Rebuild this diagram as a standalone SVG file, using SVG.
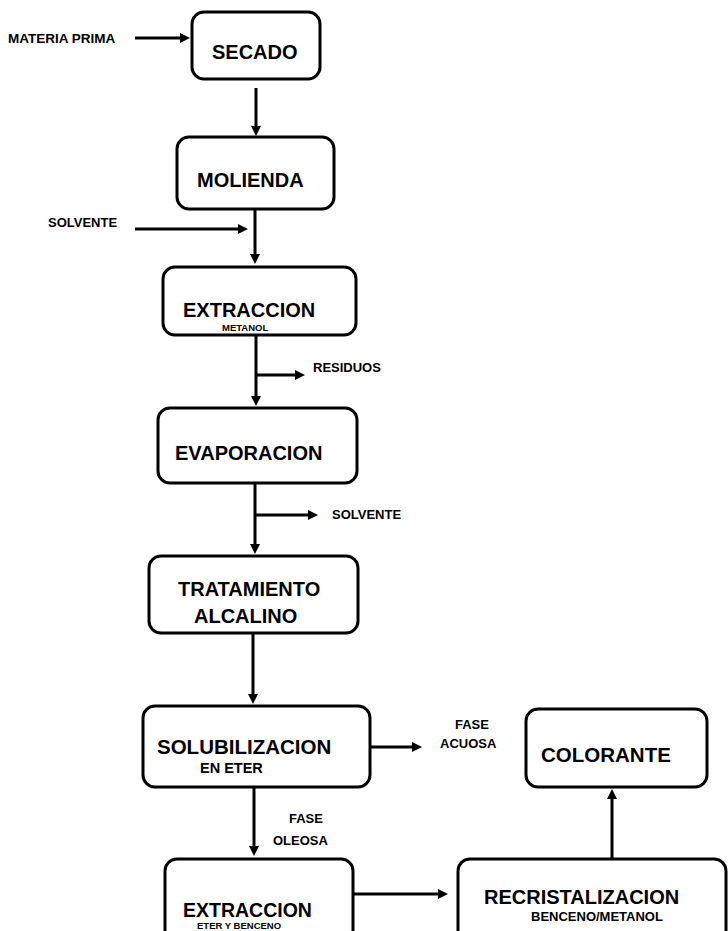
<svg xmlns="http://www.w3.org/2000/svg" width="728" height="931" viewBox="0 0 728 931">
  <defs>
    <!-- filled arrowhead; tip sits 6px beyond the line end -->
    <marker id="ah" viewBox="0 0 10 10" refX="4" refY="5" markerWidth="10" markerHeight="10" markerUnits="userSpaceOnUse" orient="auto">
      <path d="M0,0 L10,5 L0,10 z" fill="#000"/>
    </marker>
  </defs>
  <style>
    .box{fill:#fff;stroke:#000;stroke-width:3}
    .t{font-family:"Liberation Sans",Arial,sans-serif;font-weight:bold;fill:#000}
    .lg{font-size:20px}
    .sm{font-size:13px}
    .xs{font-size:9.5px}
    #connectors line{stroke:#000;stroke-width:3;fill:none;marker-end:url(#ah)}
  </style>
  <rect width="728" height="931" fill="#fff"/>

  <!-- process boxes -->
  <g id="secado">
    <rect class="box" x="192" y="12" width="128" height="67" rx="12"/>
    <text class="t lg" x="212" y="59">SECADO</text>
  </g>
  <g id="molienda">
    <rect class="box" x="177" y="137" width="157" height="72" rx="12"/>
    <text class="t lg" x="197" y="187">MOLIENDA</text>
  </g>
  <g id="extraccion-metanol">
    <rect class="box" x="163" y="267" width="193" height="68" rx="12"/>
    <text class="t lg" x="183" y="317">EXTRACCION</text>
    <text class="t xs" x="222" y="331">METANOL</text>
  </g>
  <g id="evaporacion">
    <rect class="box" x="158" y="408" width="199" height="75" rx="12"/>
    <text class="t lg" x="175" y="460">EVAPORACION</text>
  </g>
  <g id="tratamiento">
    <rect class="box" x="149" y="556" width="209" height="77" rx="12"/>
    <text class="t lg" x="178" y="596">TRATAMIENTO</text>
    <text class="t lg" x="194" y="623">ALCALINO</text>
  </g>
  <g id="solubilizacion">
    <rect class="box" x="143" y="706" width="227" height="81" rx="12"/>
    <text class="t" style="font-size:20.5px" x="157" y="754">SOLUBILIZACION</text>
    <text class="t" style="font-size:14.5px" x="200" y="773">EN ETER</text>
  </g>
  <g id="colorante">
    <rect class="box" x="526" y="709" width="181" height="78" rx="12"/>
    <text class="t" style="font-size:20.5px" x="541" y="762">COLORANTE</text>
  </g>
  <g id="extraccion-eter">
    <rect class="box" x="165" y="859" width="188" height="90" rx="12"/>
    <text class="t" style="font-size:19.5px" x="183" y="917">EXTRACCION</text>
    <text class="t xs" x="197" y="929">ETER Y BENCENO</text>
  </g>
  <g id="recristalizacion">
    <rect class="box" x="458" y="859" width="268" height="90" rx="12"/>
    <text class="t lg" x="484" y="904">RECRISTALIZACION</text>
    <text class="t sm" x="531" y="921">BENCENO/METANOL</text>
  </g>

  <!-- stream labels -->
  <g id="labels">
    <text class="t" style="font-size:13.5px" x="8" y="43">MATERIA PRIMA</text>
    <text class="t sm" x="48" y="227">SOLVENTE</text>
    <text class="t sm" x="313" y="372">RESIDUOS</text>
    <text class="t sm" x="332" y="519">SOLVENTE</text>
    <text class="t sm" x="455" y="729">FASE</text>
    <text class="t sm" x="440" y="748">ACUOSA</text>
    <text class="t sm" x="289" y="823">FASE</text>
    <text class="t sm" x="273" y="845">OLEOSA</text>
  </g>

  <!-- flow connectors -->
  <g id="connectors">
    <line x1="135" y1="38" x2="184" y2="38"/>
    <line x1="256" y1="88" x2="256" y2="130"/>
    <line x1="135" y1="229" x2="242" y2="229"/>
    <line x1="255" y1="209" x2="255" y2="258"/>
    <line x1="256" y1="335" x2="256" y2="400"/>
    <line x1="256" y1="375" x2="299" y2="375"/>
    <line x1="255" y1="483" x2="255" y2="548"/>
    <line x1="255" y1="515" x2="312" y2="515"/>
    <line x1="253" y1="633" x2="253" y2="698"/>
    <line x1="370" y1="747" x2="416" y2="747"/>
    <line x1="254" y1="787" x2="254" y2="850"/>
    <line x1="353" y1="894" x2="442" y2="894"/>
    <line x1="612" y1="859" x2="612" y2="795"/>
  </g>
</svg>
